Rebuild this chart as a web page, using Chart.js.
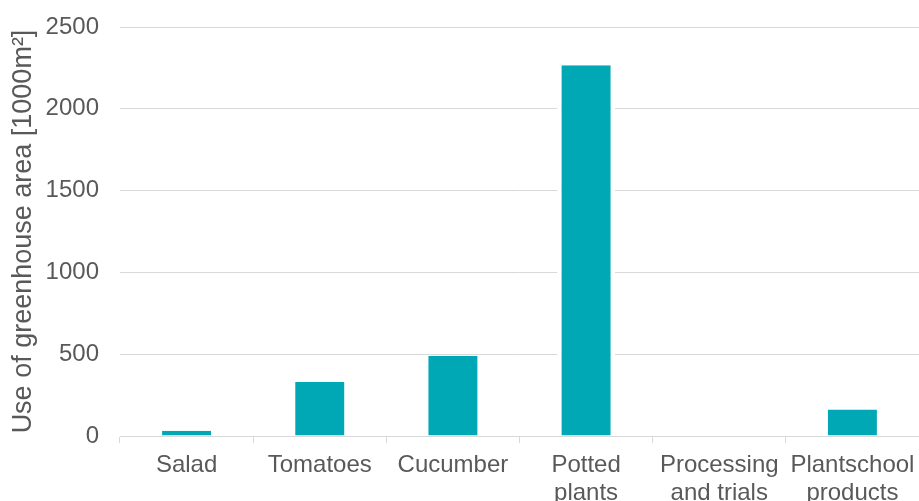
<!DOCTYPE html>
<html>
<head>
<meta charset="utf-8">
<script src="https://cdn.jsdelivr.net/npm/chart.js@4"></script>
<style>
  html, body { margin: 0; padding: 0; background: #fff; }
  .chart-wrap { position: relative; width: 919px; height: 501px; }
</style>
</head>
<body>
<div class="chart-wrap"><canvas id="chart"></canvas></div>
<script>
const categories = [
  'Salad',
  'Tomatoes',
  'Cucumber',
  ['Potted', 'plants'],
  ['Processing', 'and trials'],
  ['Plantschool', 'products']
];
const areaValues = [32, 330, 489, 2266, 0, 162];
const yTicks = [0, 500, 1000, 1500, 2000, 2500];

const textGrey = '#595959';
const lineGrey = '#d9d9d9';

Chart.defaults.font.family = "'Liberation Sans', Arial, sans-serif";
Chart.defaults.font.size = 24;
Chart.defaults.color = textGrey;

const ctx = document.getElementById('chart');

new Chart(ctx, {
  type: 'bar',
  data: {
    labels: categories,
    datasets: [{
      data: areaValues,
      backgroundColor: '#00a8b5',
      // white sides so the gridlines break around the bars
      borderColor: '#ffffff',
      borderWidth: { left: 4.5, right: 4.5, top: 0, bottom: 0 },
      barPercentage: 0.435,
      categoryPercentage: 1
    }]
  },
  options: {
    responsive: true,
    maintainAspectRatio: false,
    animation: false,
    layout: { padding: { top: 27, right: 0, left: 0, bottom: 0 } },
    plugins: {
      legend: { display: false },
      tooltip: { enabled: false }
    },
    scales: {
      x: {
        // fixed axis height, no extra side padding for the outer labels
        afterFit: s => { s.height = 501 - 436; s.paddingLeft = 0; s.paddingRight = 0; },
        border: { display: true, color: lineGrey, width: 1 },
        grid: {
          offset: true,
          drawOnChartArea: false,
          drawTicks: true,
          tickLength: 7,
          color: lineGrey
        },
        ticks: {
          padding: 9,
          maxRotation: 0,
          autoSkip: false,
          font: { lineHeight: 1.15 }
        }
      },
      y: {
        min: 0,
        max: 2500,
        afterFit: s => { s.width = 120; s.paddingTop = 0; s.paddingBottom = 0; },
        afterBuildTicks: s => { s.ticks = yTicks.map(v => ({ value: v })); },
        border: { display: false },
        grid: { color: lineGrey, drawTicks: false },
        ticks: {
          padding: 21,
          callback: v => String(v)
        },
        title: {
          display: true,
          text: 'Use of greenhouse area [1000m²]',
          color: textGrey,
          font: { size: 27 },
          padding: { top: 7, bottom: 0 }
        }
      }
    }
  }
});
</script>
</body>
</html>
